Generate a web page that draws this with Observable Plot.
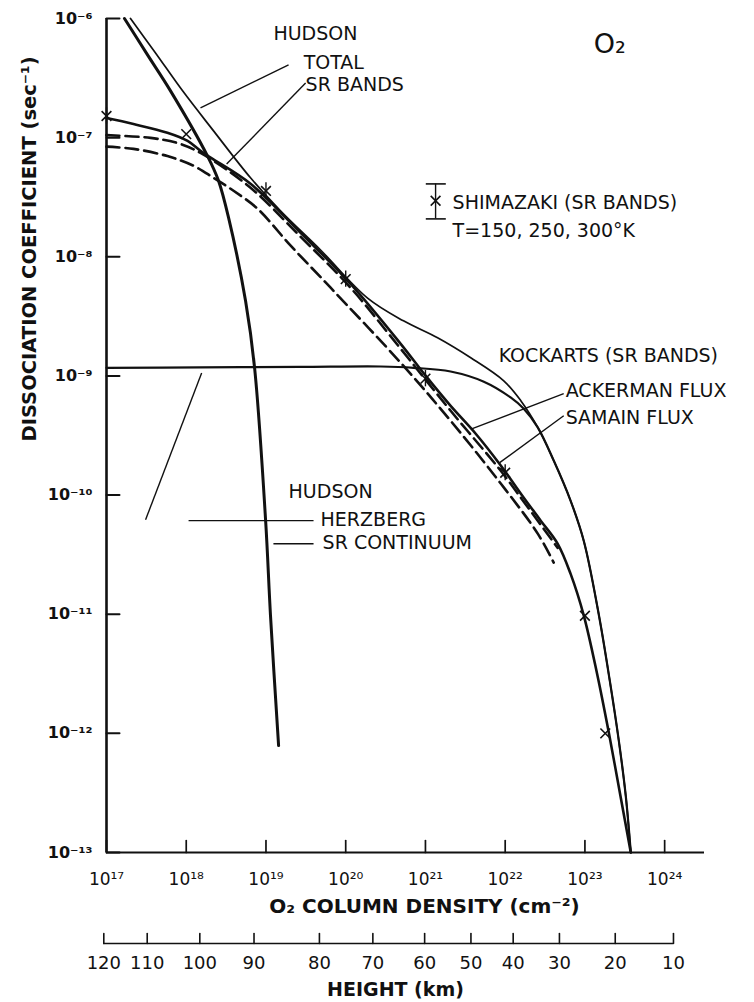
<!DOCTYPE html>
<html>
<head>
<meta charset="utf-8">
<script src="https://cdn.jsdelivr.net/npm/d3@7"></script>
<script src="https://cdn.jsdelivr.net/npm/@observablehq/plot@0.6"></script>
<style>
html, body { margin: 0; padding: 0; background: #fff; }
#chart svg { display: block; }
</style>
</head>
<body>
<div id="chart"></div>
<script>
// ---- axes ----
const xDomain = [1e17, 3.16e24];
const yDomain = [1e-13, 1e-6];
const xTicks = [1e17, 1e18, 1e19, 1e20, 1e21, 1e22, 1e23, 1e24];
const xTickLabels = ["10¹⁷", "10¹⁸", "10¹⁹", "10²⁰", "10²¹", "10²²", "10²³", "10²⁴"];
const yTicks = [1e-6, 1e-7, 1e-8, 1e-9, 1e-10, 1e-11, 1e-12, 1e-13];
const yTickLabels = ["10⁻⁶", "10⁻⁷", "10⁻⁸", "10⁻⁹", "10⁻¹⁰", "10⁻¹¹", "10⁻¹²", "10⁻¹³"];
const heightKm = [120, 110, 100, 90, 80, 70, 60, 50, 40, 30, 20, 10];
const heightColumn = [9.25e16, 3.24e17, 1.48e18, 7.08e18, 4.68e19, 2.19e20, 9.77e20, 3.72e21, 1.26e22, 4.79e22, 2.40e23, 1.29e24];

// ---- curves (column density cm^-2, dissociation coefficient s^-1) ----
const totalN = [2.0e17, 4.12e17, 9.0e17, 2.2e18, 6.4e18, 1.52e19, 4.84e19, 1.88e20, 5.3e20, 1.42e21, 3.7e21, 9.6e21, 1.57e22, 2.56e22, 4.06e22, 6.6e22, 9.7e22, 1.49e23, 2.05e23, 2.66e23, 3.25e23, 3.76e23];
const totalJ = [1.0e-6, 5.14e-7, 2.47e-7, 1.14e-7, 4.6e-8, 2.43e-8, 1.14e-8, 4.5e-9, 2.9e-9, 2.09e-9, 1.42e-9, 9.1e-10, 6.2e-10, 3.7e-10, 1.95e-10, 9.0e-11, 4.1e-11, 1.0e-11, 2.77e-12, 8.7e-13, 3.0e-13, 1.0e-13];

const herzN = [1e17, 1.5e18, 2.7e19, 2.75e20, 7.1e20, 2.07e21, 5.4e21, 1.17e22, 1.71e22, 2.56e22, 4.06e22, 6.6e22, 9.7e22, 1.49e23, 2.05e23, 2.66e23, 3.25e23, 3.76e23];
const herzJ = [1.17e-9, 1.18e-9, 1.19e-9, 1.2e-9, 1.17e-9, 1.09e-9, 8.95e-10, 6.6e-10, 5.3e-10, 3.7e-10, 1.95e-10, 9.0e-11, 4.1e-11, 1.0e-11, 2.77e-12, 8.7e-13, 3.0e-13, 1.0e-13];

const srContN = [1.68e17, 3.27e17, 6.35e17, 1.85e18, 2.54e18, 3.4e18, 5.55e18, 7.2e18, 9.9e18, 1.14e19, 1.44e19];
const srContJ = [1.0e-6, 4.95e-7, 2.47e-7, 7.0e-8, 4.35e-8, 2.12e-8, 4.25e-9, 1.17e-9, 6.1e-11, 9.7e-12, 7.9e-13];

const kockN = [1e17, 2.18e17, 5.8e17, 1.04e18, 1.51e18, 2.02e18, 6.4e18, 2.72e19, 1.15e20, 4.89e20, 1.01e21, 2.07e21, 4.27e21, 8.8e21, 1.71e22, 2.79e22, 4.56e22, 6.6e22, 9.7e22, 1.41e23, 1.99e23, 2.74e23, 3.76e23];
const kockJ = [1.46e-7, 1.30e-7, 1.10e-7, 9.4e-8, 7.75e-8, 6.8e-8, 4.1e-8, 1.59e-8, 5.93e-9, 1.86e-9, 1.0e-9, 5.6e-10, 3.27e-10, 1.77e-10, 9.5e-11, 6.1e-11, 3.9e-11, 2.19e-11, 9.7e-12, 3.24e-12, 1.02e-12, 3.19e-13, 1.0e-13];

const ackermanN = [1e17, 3.57e17, 7.8e17, 1.51e18, 6.4e18, 2.72e19, 1.15e20, 4.89e20, 2.07e21, 8.8e21, 1.71e22, 4.56e22];
const ackermanJ = [1.05e-7, 9.95e-8, 9.0e-8, 7.45e-8, 3.8e-8, 1.47e-8, 5.5e-9, 1.69e-9, 5.1e-10, 1.6e-10, 8.8e-11, 3.6e-11];

const samainN = [1e17, 2.18e17, 5.8e17, 1.24e18, 2.2e18, 3.92e18, 7.85e18, 2.04e19, 6.47e19, 4.89e20, 2.07e21, 8.8e21, 2.56e22, 4.06e22];
const samainJ = [8.4e-8, 8.05e-8, 7.0e-8, 5.8e-8, 4.6e-8, 3.58e-8, 2.53e-8, 1.24e-8, 5.5e-9, 1.29e-9, 4.2e-10, 1.25e-10, 4.75e-11, 2.71e-11];

// Shimazaki points (SR bands, T = 150, 250, 300 K)
const shimN = [1e17, 1e18, 1e19, 1e20, 1e21, 1e22, 1e23, 1.8e23];
const shimJ = [1.52e-7, 1.07e-7, 3.57e-8, 6.5e-9, 9.5e-10, 1.54e-10, 9.7e-12, 1.0e-12];
const shimLo = [1.30e-7, 1.07e-7, 3.05e-8, 5.56e-9, 8.1e-10, 1.32e-10, 9.7e-12, 1.0e-12];
const shimHi = [1.78e-7, 1.07e-7, 4.18e-8, 7.6e-9, 1.11e-9, 1.80e-10, 9.7e-12, 1.0e-12];

// annotations
const labelText = ["HUDSON", "TOTAL", "SR BANDS", "SHIMAZAKI (SR BANDS)", "T=150, 250, 300°K", "KOCKARTS (SR BANDS)", "ACKERMAN FLUX", "SAMAIN FLUX", "HUDSON", "HERZBERG", "SR CONTINUUM"];
const labelN = [1.24e19, 2.97e19, 3.14e19, 2.19e21, 2.19e21, 8.28e21, 5.74e22, 5.74e22, 1.92e19, 4.84e19, 5.13e19];
const labelJ = [7.36e-7, 4.24e-7, 2.77e-7, 2.81e-8, 1.64e-8, 1.48e-9, 7.45e-10, 4.42e-10, 1.06e-10, 6.21e-11, 3.98e-11];
const titleText = ["O₂"];
const titleN = [1.29e23];
const titleJ = [6.1e-7];

// leader lines: from label to curve
const leadN1 = [1.92e19, 3.14e19, 5.42e22, 5.42e22, 1.07e18, 3.09e17, 1.24e19];
const leadJ1 = [4.08e-7, 2.88e-7, 7.1e-10, 4.63e-10, 6.1e-11, 6.2e-11, 3.9e-11];
const leadN2 = [1.51e18, 3.21e18, 3.8e21, 8.53e21, 3.95e19, 1.56e18, 3.95e19];
const leadJ2 = [1.78e-7, 6.0e-8, 3.6e-10, 1.87e-10, 6.1e-11, 1.06e-9, 3.9e-11];

// legend error-bar symbol
const legendN = [1.34e21];
const legendTop = [4.09e-8];
const legendBottom = [2.08e-8];
const legendMid = [2.95e-8];
const legendCapN1 = [1.01e21];
const legendCapN2 = [1.80e21];

const xAxisTitle = "O₂ COLUMN DENSITY (cm⁻²)";
const yAxisTitle = "DISSOCIATION COEFFICIENT (sec⁻¹)";
const hAxisTitle = "HEIGHT (km)";

// ---- build tables ----
const pts = (N, J) => N.map((n, i) => ({n, j: J[i]}));
const shim = shimN.map((n, i) => ({n, j: shimJ[i], lo: shimLo[i], hi: shimHi[i]}));
const labels = labelText.map((t, i) => ({t, n: labelN[i], j: labelJ[i]}));
const leaders = leadN1.map((n, i) => ({n1: n, j1: leadJ1[i], n2: leadN2[i], j2: leadJ2[i]}));
const heights = heightKm.map((h, i) => ({h, n: heightColumn[i]}));
const xTickRows = xTicks.map(v => ({v}));
const yTickRows = yTicks.map(v => ({v}));
const legend = legendN.map((n, i) => ({n, top: legendTop[i], bot: legendBottom[i], mid: legendMid[i], c1: legendCapN1[i], c2: legendCapN2[i]}));

const FONT = "DejaVu Sans, Verdana, sans-serif";
const ink = "#111";
const curve = "catmull-rom";
// plain straight tick (no arrow head)
const tickShape = {draw(context, l) { context.moveTo(0, 0); context.lineTo(0, -l); }};

const chart = Plot.plot({
  width: 754,
  height: 1002,
  marginLeft: 106,
  marginRight: 50,
  marginTop: 18,
  marginBottom: 150,
  style: {fontFamily: FONT, color: ink, background: "#fff"},
  x: {type: "log", domain: xDomain, axis: null},
  y: {type: "log", domain: yDomain, axis: null},
  marks: [
    // frame lines
    Plot.ruleX([xDomain[0]], {stroke: ink, strokeWidth: 2.6}),
    Plot.ruleY([yDomain[0]], {stroke: ink, strokeWidth: 2}),
    // inward ticks
    Plot.vector(yTickRows, {x: () => xDomain[0], y: "v", length: 13, rotate: 90, anchor: "start", shape: tickShape, stroke: ink, strokeWidth: 2}),
    Plot.vector(xTickRows, {x: "v", y: () => yDomain[0], length: 12, rotate: 0, anchor: "start", shape: tickShape, stroke: ink, strokeWidth: 1.7}),
    // tick labels
    Plot.axisY({ticks: yTicks, tickSize: 0, tickPadding: 14, tickFormat: d => yTickLabels[yTicks.indexOf(d)], fontSize: 16, fontWeight: "bold", label: null}),
    Plot.axisX({ticks: xTicks, tickSize: 0, tickPadding: 20, tickFormat: d => xTickLabels[xTicks.indexOf(d)], fontSize: 17, label: null}),
    // axis titles
    Plot.text([yAxisTitle], {frameAnchor: "left", rotate: -90, dx: -77, dy: 6, lineAnchor: "middle", fontSize: 19.5, fontWeight: "bold", fill: ink}),
    Plot.text([xAxisTitle], {frameAnchor: "bottom", dx: 19, dy: 54, lineAnchor: "middle", fontSize: 20, fontWeight: "bold", fill: ink}),
    // height (km) secondary axis
    Plot.ruleY([yDomain[0]], {x1: heightColumn[0], x2: heightColumn[heightColumn.length - 1], dy: 91, stroke: ink, strokeWidth: 1.6}),
    Plot.vector(heights, {x: "n", frameAnchor: "bottom", length: 10, rotate: 0, anchor: "start", shape: tickShape, dy: 91, stroke: ink, strokeWidth: 1.6}),
    Plot.text(heights, {x: "n", text: "h", frameAnchor: "bottom", dy: 111, lineAnchor: "middle", fontSize: 18, fill: ink}),
    Plot.text([hAxisTitle], {frameAnchor: "bottom", dx: -10, dy: 137, lineAnchor: "middle", fontSize: 19, fontWeight: "bold", fill: ink}),

    // curves
    Plot.line(pts(herzN, herzJ), {x: "n", y: "j", curve, stroke: ink, strokeWidth: 2.2}),
    Plot.line(pts(totalN, totalJ), {x: "n", y: "j", curve, stroke: ink, strokeWidth: 1.7}),
    Plot.line(pts(srContN, srContJ), {x: "n", y: "j", curve, stroke: ink, strokeWidth: 3}),
    Plot.line(pts(kockN, kockJ), {x: "n", y: "j", curve, stroke: ink, strokeWidth: 2.6}),
    Plot.line(pts(ackermanN, ackermanJ), {x: "n", y: "j", curve, stroke: ink, strokeWidth: 2.6, strokeDasharray: "13,6"}),
    Plot.line(pts(samainN, samainJ), {x: "n", y: "j", curve, stroke: ink, strokeWidth: 2.6, strokeDasharray: "13,6"}),

    // Shimazaki points
    Plot.ruleX(shim, {x: "n", y1: "lo", y2: "hi", stroke: ink, strokeWidth: 1.4}),
    Plot.dot(shim, {x: "n", y: "j", symbol: "times", r: 4.5, stroke: ink, strokeWidth: 1.6}),

    // legend symbol
    Plot.ruleX(legend, {x: "n", y1: "bot", y2: "top", stroke: ink, strokeWidth: 1.4}),
    Plot.link(legend, {x1: "c1", x2: "c2", y1: "top", y2: "top", stroke: ink, strokeWidth: 1.6}),
    Plot.link(legend, {x1: "c1", x2: "c2", y1: "bot", y2: "bot", stroke: ink, strokeWidth: 1.6}),
    Plot.dot(legend, {x: "n", y: "mid", symbol: "times", r: 4.5, stroke: ink, strokeWidth: 1.6}),

    // leader lines
    Plot.link(leaders, {x1: "n1", y1: "j1", x2: "n2", y2: "j2", stroke: ink, strokeWidth: 1.4}),

    // annotation text
    Plot.text(labels, {x: "n", y: "j", text: "t", textAnchor: "start", lineAnchor: "middle", fontSize: 19, fill: ink}),
    Plot.text(titleText, {x: titleN, y: titleJ, text: d => d, textAnchor: "start", fontSize: 27, fill: ink})
  ]
});

document.getElementById("chart").appendChild(chart);
</script>
</body>
</html>
